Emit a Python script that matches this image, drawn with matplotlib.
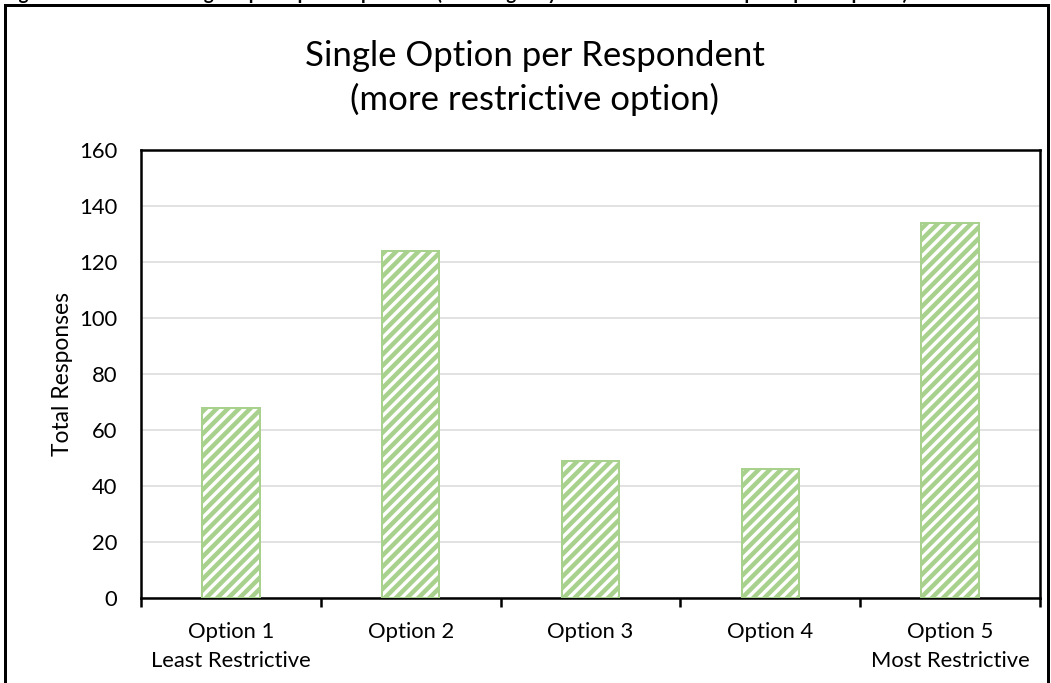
import numpy as np
import matplotlib.pyplot as plt
from matplotlib.patches import Rectangle

DPI = 67
W, H = 1051, 683


def px(v):
    # pixel size -> points at this dpi
    return v * 72 / DPI


categories = ["Option 1\nLeast Restrictive", "Option 2", "Option 3", "Option 4",
              "Option 5\nMost Restrictive"]
responses = [68, 124, 49, 46, 134]
y_ticks = list(range(0, 161, 20))

bar_green = "#A9D18E"

plt.rcParams['font.family'] = ['Lato', 'DejaVu Sans']
plt.rcParams['hatch.linewidth'] = px(4.5)

fig = plt.figure(figsize=(W / DPI, H / DPI), dpi=DPI)
ax = fig.add_axes([141 / W, 1 - 598 / H, (1040 - 141) / W, (598 - 150) / H])

x = np.arange(len(categories))
ax.bar(x, responses, width=0.32, color="white", edgecolor=bar_green,
       hatch="//", linewidth=px(2), zorder=3)

ax.set_xlim(-0.5, len(categories) - 0.5)
ax.set_ylim(0, 160)
ax.set_yticks(y_ticks)
ax.set_xticks(x)
ax.set_xticklabels(categories, multialignment="center")
ax.set_xticks(np.arange(-0.5, len(categories), 1), minor=True)
for lab in ax.get_xticklabels():
    lab.set_linespacing(1.55)

ax.yaxis.grid(True, color="#D9D9D9", linewidth=px(1.5))
ax.set_axisbelow(True)

for s in ax.spines.values():
    s.set_linewidth(px(2.5))
    s.set_color("black")

ax.tick_params(axis="y", length=0, pad=px(24), labelsize=px(22))
ax.tick_params(axis="x", which="major", length=0, pad=px(24), labelsize=px(22))
ax.tick_params(axis="x", which="minor", length=px(9), width=px(2.5), direction="out")

ax.set_ylabel("Total Responses", fontsize=px(22.8), labelpad=px(6))

fig.text(535 / W, 1 - 78 / H, "Single Option per Respondent\n(more restrictive option)",
         ha="center", va="center", fontsize=px(34.7), linespacing=1.42)

# caption sitting above the frame, mostly cut off by the figure edge
fig.text(3 / W, 1.0, "Figure 4: Results for Single Option per Respondent "
         "(counting only the more restrictive option per response)",
         ha="left", va="baseline", fontsize=px(19), fontweight="bold")

fig.add_artist(Rectangle((5 / W, -0.05), (1048 - 5) / W, 1 - 5 / H + 0.05,
                         transform=fig.transFigure, fill=False,
                         edgecolor="black", linewidth=px(3), clip_on=False))

fig.savefig("out.png", dpi=DPI)
